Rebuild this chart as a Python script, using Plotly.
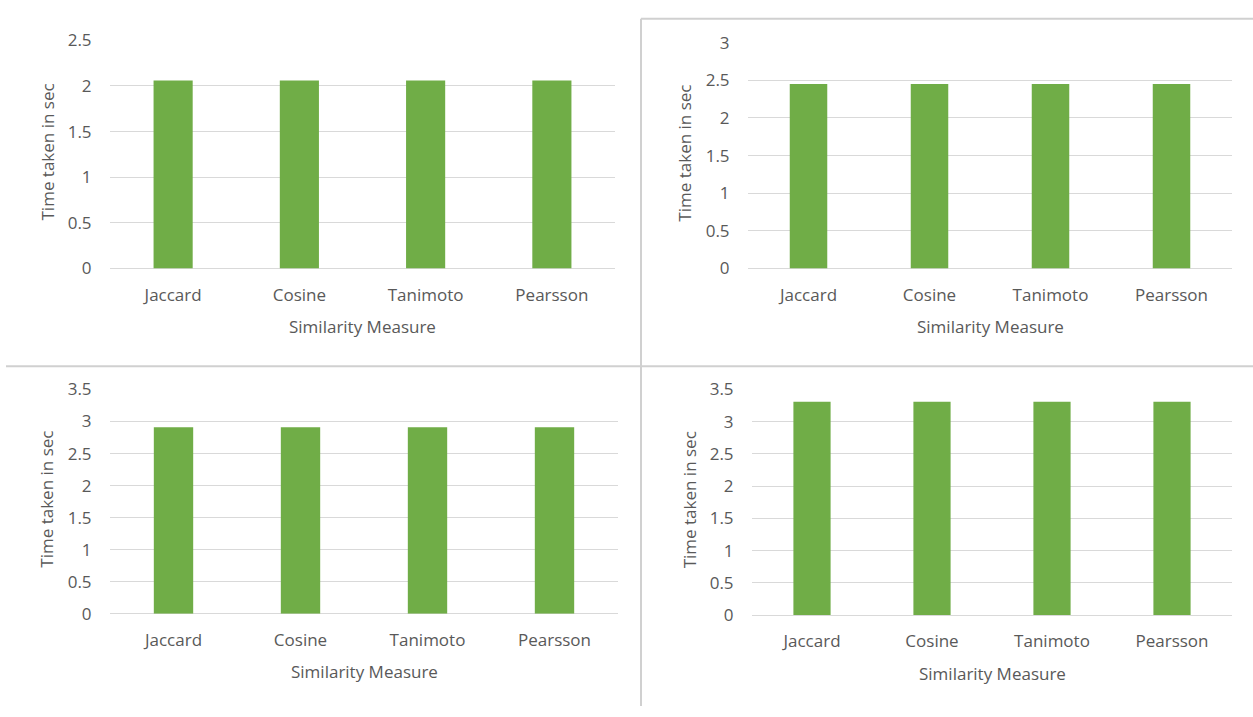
import plotly.graph_objects as go

categories = ["Jaccard", "Cosine", "Tanimoto", "Pearsson"]
values_tl = [2.06, 2.06, 2.06, 2.06]
values_tr = [2.45, 2.45, 2.45, 2.45]
values_bl = [2.91, 2.91, 2.91, 2.91]
values_br = [3.31, 3.31, 3.31, 3.31]
y_title = "Time taken in sec"
x_title = "Similarity Measure"

W, H = 1253, 717
def px(x): return x / W
def py(y): return 1 - y / H

GREEN = "#70AD47"
GRID = "#D9D9D9"
TXT = "#595959"
FONT = "Open Sans"

panels = [
    (values_tl, (110, 615), (265, 29.3), 2.5),
    (values_tr, (748, 1232), (265, 31.7), 3.0),
    (values_bl, (110, 618), (621.7, 390), 3.5),
    (values_br, (752, 1232), (623, 390), 3.5),
]

fig = go.Figure()
layout = dict(
    width=W, height=H, margin=dict(l=0, r=0, t=0, b=0),
    paper_bgcolor="white", plot_bgcolor="white", showlegend=False,
    font=dict(family=FONT, color=TXT, size=16),
)
annotations = []
for i, (vals, (x0, x1), (yb, yt), rmax) in enumerate(panels):
    n = "" if i == 0 else str(i + 1)
    fig.add_trace(go.Bar(x=categories, y=vals, marker=dict(color=GREEN, line=dict(width=0)),
                         width=0.31, xaxis="x" + n, yaxis="y" + n, hoverinfo="x+y"))
    layout["xaxis" + n] = dict(domain=[px(x0), px(x1)], anchor="y" + n, showgrid=False,
                               showline=False, zeroline=False, ticks="outside", ticklen=11,
                               tickcolor="rgba(0,0,0,0)", tickfont=dict(size=17, color=TXT))
    layout["yaxis" + n] = dict(domain=[py(yb), py(yt)], anchor="x" + n, range=[0, rmax],
                               dtick=0.5, showgrid=True, gridcolor=GRID, gridwidth=1,
                               zeroline=True, zerolinecolor=GRID, zerolinewidth=1,
                               showline=False, ticks="outside", ticklen=14,
                               tickcolor="rgba(0,0,0,0)", tickfont=dict(size=17, color=TXT))
    cx = (x0 + x1) / 2
    annotations.append(dict(text=x_title, x=px(cx), y=py(yb + 60), xref="paper", yref="paper",
                            showarrow=False, font=dict(size=17, color=TXT),
                            xanchor="center", yanchor="middle"))
    annotations.append(dict(text=y_title, x=px(x0 - 63), y=py((yb + yt) / 2 - 2), xref="paper",
                            yref="paper", showarrow=False, textangle=-90,
                            font=dict(size=17, color=TXT), xanchor="center", yanchor="middle"))

LINE = "#D0D0D0"
shapes = [
    dict(type="line", xref="paper", yref="paper", x0=px(6), x1=1, y0=py(366), y1=py(366),
         line=dict(color=LINE, width=2)),
    dict(type="line", xref="paper", yref="paper", x0=px(641), x1=px(641), y0=py(7), y1=0,
         line=dict(color=LINE, width=2)),
    dict(type="line", xref="paper", yref="paper", x0=px(641), x1=1, y0=py(7), y1=py(7),
         line=dict(color=LINE, width=2)),
]
layout["annotations"] = annotations
layout["shapes"] = shapes
fig.update_layout(**layout)
fig.write_html("out.html")
